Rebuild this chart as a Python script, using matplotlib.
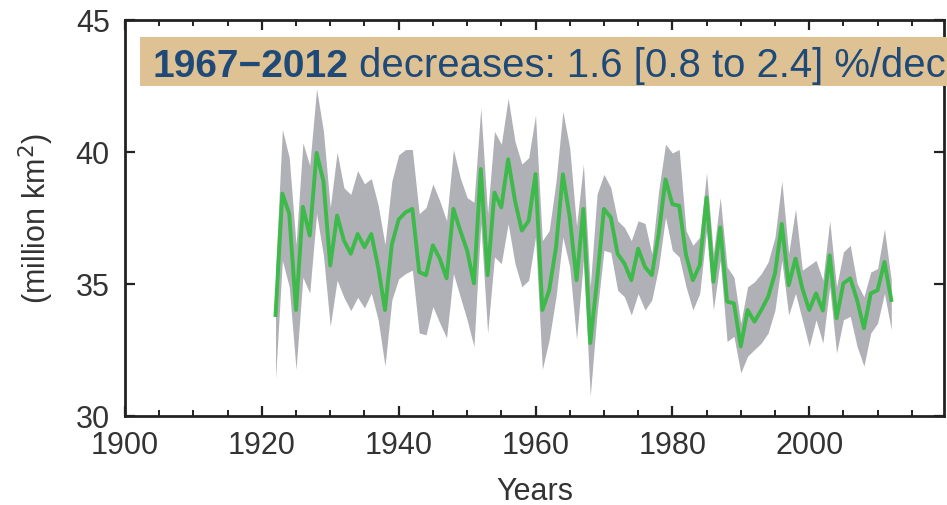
import matplotlib
matplotlib.use('Agg')
import matplotlib.pyplot as plt
from matplotlib.patches import Rectangle
import numpy as np

plt.rcParams['font.family'] = ['Liberation Sans', 'DejaVu Sans']

years = np.arange(1922, 2013)

extent = [33.83, 38.43, 37.67, 34.02, 37.93, 36.84, 39.97, 38.9, 35.71, 37.6,
          36.65, 36.15, 36.9, 36.4, 36.9, 35.65, 34.02, 36.5, 37.45, 37.72,
          37.85, 35.46, 35.34, 36.47, 35.97, 35.22, 37.85, 37.03, 36.28, 35.03,
          39.36, 35.34, 38.47, 37.91, 39.73, 38.16, 37.03, 37.4, 39.17, 34.02,
          34.77, 36.4, 39.16, 37.53, 35.15, 37.85, 32.77, 35.15, 37.85, 37.53,
          36.15, 35.78, 35.15, 36.34, 35.65, 35.34, 36.9, 38.97, 38.03, 37.97,
          36.1, 35.15, 35.71, 38.28, 35.09, 37.15, 34.34, 34.27, 32.64, 34.02,
          33.58, 34.02, 34.52, 35.4, 37.28, 34.96, 35.97, 34.84, 34.02, 34.65,
          34.0, 36.09, 33.71, 35.03, 35.22, 34.4, 33.33, 34.65, 34.77, 35.84,
          34.4]

upper = [35.5, 40.86, 39.8, 36.5, 40.35, 39.5, 42.4, 40.8, 37.9, 40.0,
         38.65, 38.4, 39.3, 38.8, 39.0, 38.0, 36.5, 38.9, 39.9, 40.1,
         40.1, 37.67, 37.9, 38.8, 38.16, 37.4, 40.1, 39.03, 38.28, 38.1,
         41.67, 37.67, 40.79, 40.3, 42.04, 40.41, 39.55, 39.79, 41.4, 36.65,
         37.03, 38.9, 41.54, 40.16, 37.2, 39.55, 34.9, 38.41, 39.16, 38.66,
         37.4, 37.15, 36.65, 37.4, 37.3, 36.15, 38.53, 40.3, 39.97, 40.1,
         37.03, 36.47, 36.78, 39.22, 36.15, 38.28, 35.65, 35.27, 33.52, 34.9,
         35.09, 35.4, 35.84, 36.78, 38.91, 36.15, 37.85, 35.53, 35.71, 35.9,
         35.15, 37.4, 34.9, 36.22, 36.47, 35.03, 34.52, 35.46, 35.59, 37.09,
         35.15]

lower = [31.4, 35.9, 34.9, 31.77, 35.26, 34.66, 37.67, 36.1, 33.4, 35.15,
         34.5, 34.0, 34.5, 34.1, 34.66, 33.65, 31.9, 34.4, 35.2, 35.4,
         35.53, 33.15, 33.08, 34.15, 33.53, 32.97, 35.4, 34.52, 33.65, 32.64,
         37.29, 33.15, 36.03, 35.78, 37.29, 35.78, 34.9, 35.15, 36.78, 31.77,
         32.9, 34.52, 36.78, 35.65, 32.9, 35.9, 30.76, 33.9, 36.28, 36.2,
         34.77, 34.52, 33.83, 34.64, 34.02, 34.4, 35.65, 37.53, 36.28, 36.03,
         34.9, 34.02, 34.65, 37.03, 34.02, 35.9, 32.83, 33.02, 31.64, 32.27,
         32.52, 32.77, 33.15, 34.02, 35.9, 33.83, 34.65, 33.65, 32.64, 33.65,
         32.77, 34.9, 32.39, 33.65, 33.78, 32.64, 31.89, 33.15, 33.52, 34.65,
         33.27]

fig = plt.figure(figsize=(9.47, 5.05), dpi=100)
ax = fig.add_axes([0.132, 0.176, 0.8648, 0.784])

ax.fill_between(years, lower, upper, color='#b0b0b7', linewidth=0)
ax.plot(years, extent, color='#3dba4a', linewidth=2.8)

ax.set_xlim(1900, 2019.7)
ax.set_ylim(30, 45)
ax.set_xticks(np.arange(1900, 2001, 20))
ax.set_xticks(np.arange(1900, 2020, 5), minor=True)
ax.set_yticks([30, 35, 40, 45])
ax.tick_params(direction='in', top=True, right=True, labelsize=22,
               length=7, width=1.6, color='#222222', labelcolor='#333333')
ax.tick_params(axis='x', pad=11)
ax.tick_params(axis='y', pad=11)
ax.tick_params(which='minor', direction='in', top=True, length=4, width=1.4,
               color='#222222')
for s in ax.spines.values():
    s.set_linewidth(2.0)
    s.set_color('#222222')

ax.set_xlabel('Years', fontsize=22, color='#333333', labelpad=11)
ax.set_ylabel(r'(million km$^2$)', fontsize=22, color='#333333', labelpad=14)

# trend annotation on a tan strip
fig.add_artist(Rectangle((140 / 947, 1 - 86 / 505), 0.99, 49 / 505,
                         transform=fig.transFigure, facecolor='#dec293',
                         edgecolor='none', zorder=5))
t1 = fig.text(152 / 947, 1 - 77 / 505, '1967\u22122012', fontsize=28,
              fontweight='bold', color='#1f4a78', zorder=6)
fig.canvas.draw()
bb = t1.get_window_extent()
fig.text(bb.x1 / fig.bbox.width, 1 - 77 / 505,
         ' decreases: 1.6 [0.8 to 2.4] %/dec', fontsize=28.9,
         color='#1f4a78', zorder=6)

fig.savefig('out.png', dpi=100)
